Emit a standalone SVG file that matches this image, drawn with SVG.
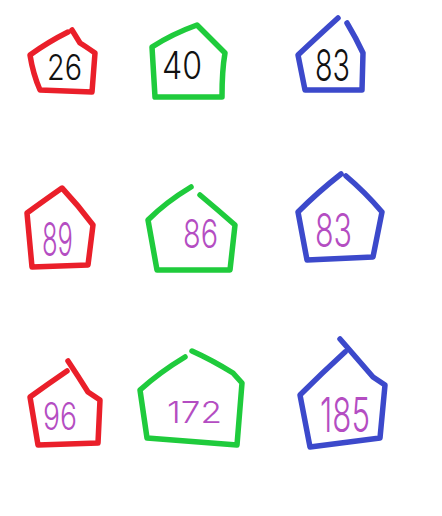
<svg xmlns="http://www.w3.org/2000/svg" width="442" height="516" viewBox="0 0 442 516">
<style>
.s{fill:none;stroke-width:5.5;stroke-linecap:round;stroke-linejoin:round}
.r{stroke:#ea1f2a}.g{stroke:#1fcb3c}.b{stroke:#3c49cb}
.t{font-family:Inter,"Liberation Sans",Arial,sans-serif;font-weight:300}
.k{fill:#111}.p{fill:#b44dc2}
</style>
<rect width="442" height="516" fill="#fff"/>
<g id="n1"><path class="s r" d="M68,32 Q48,42 30,55 Q33,74 40,90 L92,92 L95,53 Q85,46 80,43 L72,30"/><text class="t k" x="47" y="80" font-size="35" textLength="35" lengthAdjust="spacingAndGlyphs">26</text></g>
<g id="n2"><path class="s g" d="M197,25 Q172,34 152,47 L155,97 L222,97 Q222,70 225,53 Q210,38 197,25 Z"/><text class="t k" x="162" y="79" font-size="38" textLength="40" lengthAdjust="spacingAndGlyphs">40</text></g>
<g id="n3"><path class="s b" d="M338,18 Q316,38 298,55 L305,90 L362,90 L363,53 Q356,38 347,23"/><text class="t k" x="315" y="81" font-size="44" textLength="35" lengthAdjust="spacingAndGlyphs">83</text></g>
<g id="n4"><path class="s r" d="M62,188 Q42,202 27,213 L32,267 L88,265 L93,225 Q78,205 62,188 Z"/><text class="t p" x="42" y="256" font-size="46" textLength="31" lengthAdjust="spacingAndGlyphs">89</text></g>
<g id="n5"><path class="s g" d="M191,187 Q166,202 148,220 L157,270 L230,270 L235,225 Q218,210 200,195"/><text class="t p" x="183" y="248" font-size="40" textLength="35" lengthAdjust="spacingAndGlyphs">86</text></g>
<g id="n6"><path class="s b" d="M341,174 Q318,192 298,212 L307,260 L373,257 L382,212 Q365,192 346,176"/><text class="t p" x="315" y="247" font-size="46" textLength="37" lengthAdjust="spacingAndGlyphs">83</text></g>
<g id="n7"><path class="s r" d="M67,371 Q48,384 30,397 L38,445 L98,443 L100,400 L88,392 Q78,376 68,361"/><text class="t p" x="43" y="430" font-size="38" textLength="34" lengthAdjust="spacingAndGlyphs">96</text></g>
<g id="n8"><path class="s g" d="M185,357 Q160,372 140,390 L147,438 L237,445 L242,383 L233,373 Q212,360 192,351"/><text class="t p" x="167" y="423" font-size="30" textLength="55" lengthAdjust="spacingAndGlyphs">172</text></g>
<g id="n9"><path class="s b" d="M340,339 L347,347 Q360,362 373,377 L385,385 L380,438 L310,447 L300,395 Q322,373 345,352"/><text class="t p" x="320" y="432" font-size="48" textLength="50" lengthAdjust="spacingAndGlyphs">185</text></g>
</svg>
